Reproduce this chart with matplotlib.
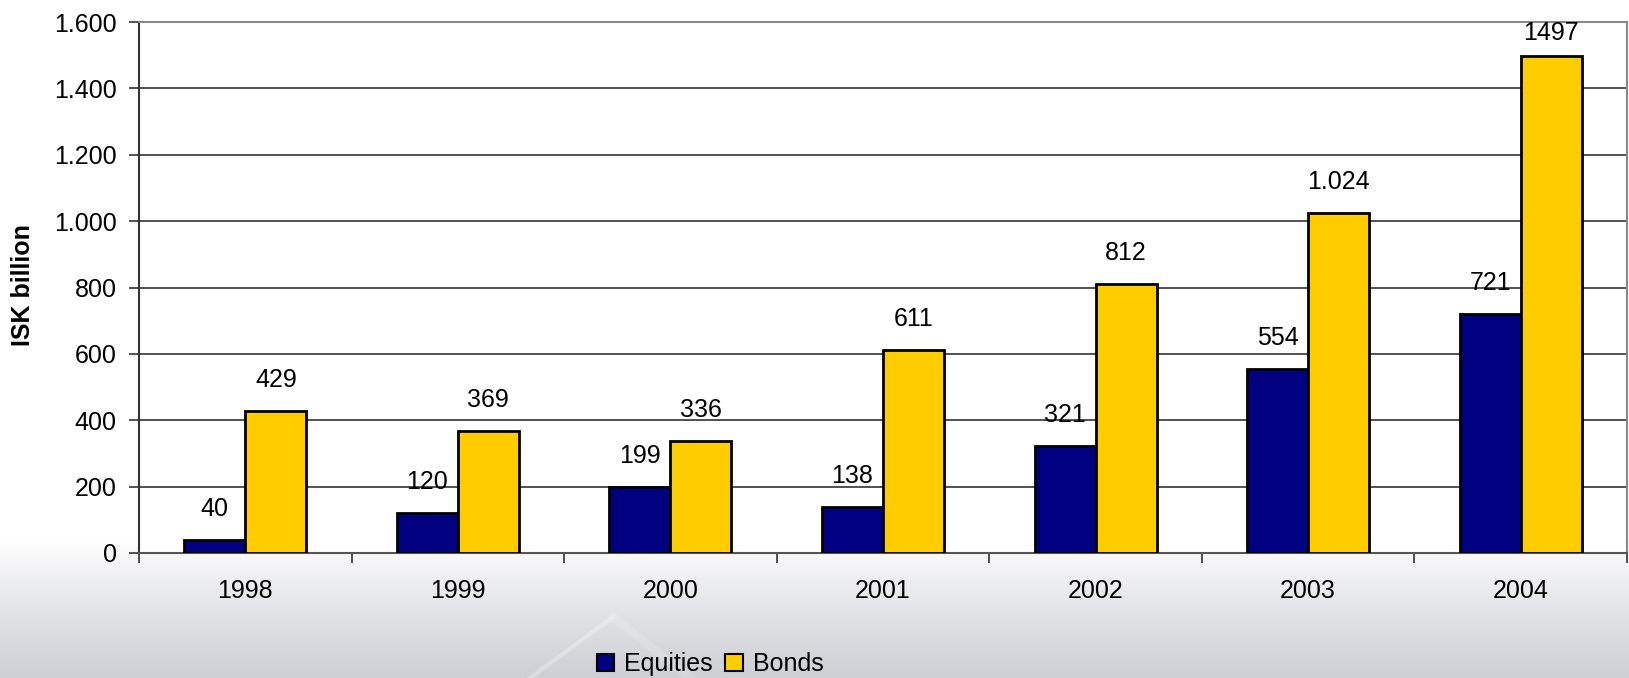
import numpy as np
import matplotlib
matplotlib.use("Agg")
import matplotlib.pyplot as plt
from matplotlib.patches import Patch
from matplotlib.lines import Line2D

years = ["1998", "1999", "2000", "2001", "2002", "2003", "2004"]
equities = [40, 120, 199, 138, 321, 554, 721]
bonds = [429, 369, 336, 611, 812, 1024, 1497]
equity_labels = ["40", "120", "199", "138", "321", "554", "721"]
bond_labels = ["429", "369", "336", "611", "812", "1.024", "1497"]
yticks = [0, 200, 400, 600, 800, 1000, 1200, 1400, 1600]
ytick_labels = ["0", "200", "400", "600", "800", "1.000", "1.200", "1.400", "1.600"]

plt.rcParams['font.family'] = ['Liberation Sans', 'DejaVu Sans']

W, H = 1629, 678
fig = plt.figure(figsize=(W / 100, H / 100), dpi=100)
fig.patch.set_facecolor('white')

# gradient background at the bottom of the figure
bg = fig.add_axes([0, 0, 1, 1], zorder=-10)
bg.set_axis_off()
n = 400
yy = np.linspace(0, 1, n)[:, None]
top_frac = 0.2
t = np.clip((top_frac - yy) / top_frac, 0, 1) ** 0.85
white = np.array([1.0, 1.0, 1.0])
gray = np.array([206, 207, 213]) / 255.0
col = white[None, None, :] * (1 - t[..., None]) + gray[None, None, :] * t[..., None]
col = np.repeat(col, 4, axis=1)
bg.imshow(col, extent=[0, 1, 0, 1], origin='lower', aspect='auto')
bg.set_xlim(0, 1)
bg.set_ylim(0, 1)
# faint light diagonal highlight
bg.add_line(Line2D([530 / W, 613 / W], [0, 1 - 617 / H], color='white', alpha=0.3, lw=3))
bg.add_line(Line2D([613 / W, 690 / W], [1 - 617 / H, 0], color='white', alpha=0.15, lw=6))

ax = fig.add_axes([139 / W, 1 - 553 / H, (1627 - 139) / W, (553 - 22) / H])
ax.set_facecolor('white')

x = np.arange(len(years))
bw = 0.287
navy = '#000080'
gold = '#FFCC00'
b1 = ax.bar(x - bw / 2, equities, bw, color=navy, edgecolor='black', linewidth=2, zorder=3)
b2 = ax.bar(x + bw / 2, bonds, bw, color=gold, edgecolor='black', linewidth=2, zorder=3)

ax.set_xlim(-0.5, len(years) - 0.5)
ax.set_ylim(0, 1600)

# label offset: ~31 px above bar top, but kept inside the plot area
px_per_unit = (553 - 22) / 1600.0
off_px = 31
min_center_below_top = 11
for rects, labs in ((b1, equity_labels), (b2, bond_labels)):
    for r, lab in zip(rects, labs):
        h = r.get_height()
        top_gap_px = (1600 - h) * px_per_unit
        off = off_px
        if top_gap_px - off < min_center_below_top:
            off = top_gap_px - min_center_below_top
        ax.annotate(lab, (r.get_x() + r.get_width() / 2, h),
                    xytext=(0, off * 0.72), textcoords='offset points',
                    ha='center', va='center', fontsize=18, color='black', zorder=4)

ax.set_yticks(yticks)
ax.set_yticklabels(ytick_labels, fontsize=18)
ax.set_xticks(x)
ax.set_xticklabels(years, fontsize=18)
ax.set_xticks(np.arange(-0.5, len(years)), minor=True)
ax.tick_params(axis='x', which='major', length=0, pad=19)
ax.tick_params(axis='x', which='minor', length=7, width=1.2, color='#333333')
ax.tick_params(axis='y', length=7, width=1.2, color='#333333', pad=9)

ax.yaxis.grid(True, color='#222222', linewidth=1.1, zorder=0)
ax.set_axisbelow(True)
for s in ['top', 'right']:
    ax.spines[s].set_color('#888888')
    ax.spines[s].set_linewidth(1.5)
ax.spines['left'].set_color('#333333')
ax.spines['left'].set_linewidth(1.5)
ax.spines['bottom'].set_color('#555555')
ax.spines['bottom'].set_linewidth(1.5)

fig.text(23 / W, 1 - 285 / H, "ISK billion", rotation=90, fontsize=18,
         fontweight='bold', ha='center', va='center')

handles = [Patch(facecolor=navy, edgecolor='black', linewidth=1.5, label='Equities'),
           Patch(facecolor=gold, edgecolor='black', linewidth=1.5, label='Bonds')]
fig.legend(handles=handles, loc='center', bbox_to_anchor=(710 / W, 1 - 664 / H),
           ncol=2, frameon=False, fontsize=18, handlelength=0.7, handleheight=0.7,
           handletextpad=0.4, columnspacing=0.5, borderaxespad=0, borderpad=0)

fig.savefig('out.png', dpi=100, facecolor=fig.get_facecolor())
